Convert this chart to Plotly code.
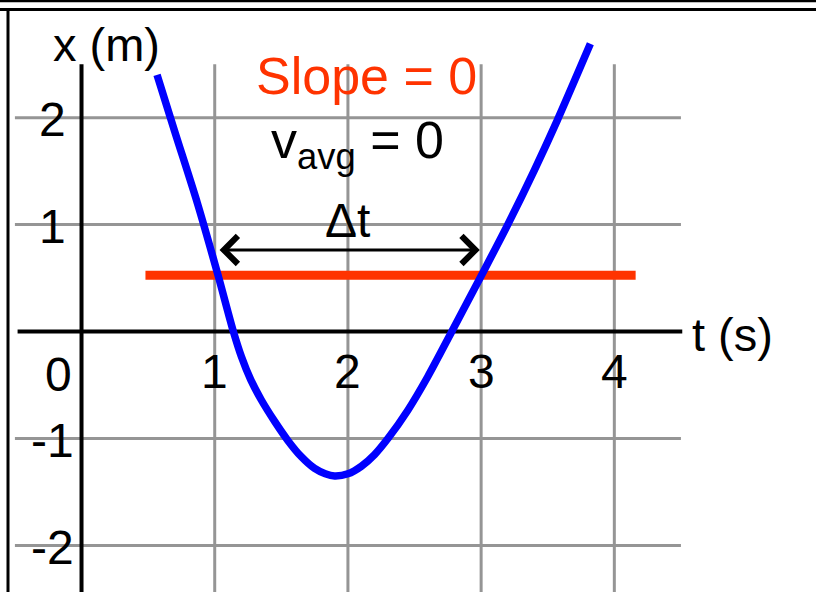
import plotly.graph_objects as go

# ---------------- data ----------------
curve_t = [0.567, 0.70, 0.87, 1.025, 1.14, 1.20, 1.27, 1.35, 1.45, 1.55, 1.65, 1.75, 1.83, 1.90,
           2.00, 2.10, 2.20, 2.30, 2.45, 2.60, 2.78, 3.00, 3.20, 3.40, 3.57, 3.82]
curve_x = [2.40, 1.87, 1.20, 0.526, 0.00, -0.234, -0.45, -0.64, -0.84, -1.02, -1.17, -1.28, -1.33, -1.35,
           -1.33, -1.26, -1.15, -1.00, -0.735, -0.42, 0.00, 0.52, 1.00, 1.51, 1.97, 2.69]

avg_t = [0.48, 4.16]          # horizontal "slope = 0" line
avg_x = [0.526, 0.526]

dt_start, dt_end, dt_level = 1.025, 2.99, 0.763

x_ticks = [1, 2, 3, 4]
x_tick_labels = ["1", "2", "3", "4"]
y_ticks = [2, 1, -1, -2]
y_tick_labels = ["2", "1", "-1", "-2"]

FONT = "Liberation Sans, Arial, sans-serif"
W, H = 816, 592
X_RANGE = [-0.612, 5.514]
Y_RANGE = [-2.435, 3.100]
GRID_T = [-0.5, 4.5]
GRID_Y = [-2.6, 2.5]

fig = go.Figure()

# grid lines
gx, gy = [], []
for t in x_ticks:
    gx += [t, t, None]
    gy += [GRID_Y[0], GRID_Y[1], None]
for v in y_ticks:
    gx += [GRID_T[0], GRID_T[1], None]
    gy += [v, v, None]
fig.add_trace(go.Scatter(x=gx, y=gy, mode="lines",
                         line=dict(color="#959595", width=3),
                         hoverinfo="skip", showlegend=False))

# axes lines
fig.add_trace(go.Scatter(x=[-0.48, 4.51], y=[0, 0], mode="lines",
                         line=dict(color="black", width=4),
                         hoverinfo="skip", showlegend=False))
fig.add_trace(go.Scatter(x=[0, 0], y=[GRID_Y[0], GRID_Y[1]], mode="lines",
                         line=dict(color="black", width=4),
                         hoverinfo="skip", showlegend=False))

# red zero-slope line
fig.add_trace(go.Scatter(x=avg_t, y=avg_x, mode="lines",
                         line=dict(color="#FF3300", width=9),
                         hoverinfo="skip", showlegend=False))

# blue position curve
fig.add_trace(go.Scatter(x=curve_t, y=curve_x, mode="lines",
                         line=dict(color="#0000FF", width=7.5, shape="spline", smoothing=0.8),
                         hoverinfo="skip", showlegend=False))

ann = []
# tick labels
for t, lab in zip(x_ticks, x_tick_labels):
    ann.append(dict(x=t, y=-0.37, text=lab, showarrow=False,
                    xanchor="center", yanchor="middle",
                    font=dict(family=FONT, size=48, color="black")))
for v, lab in zip(y_ticks, y_tick_labels):
    ann.append(dict(x=-0.10 + (0.055 if v < 0 else 0.0), y=v, text=lab, showarrow=False,
                    xanchor="right", yanchor="middle", yshift=-2,
                    font=dict(family=FONT, size=48, color="black")))
ann.append(dict(x=-0.176, y=-0.40, text="0", showarrow=False,
                xanchor="center", yanchor="middle",
                font=dict(family=FONT, size=48, color="black")))

# axis titles
ann.append(dict(x=0.19, y=2.68, text="x (m)", showarrow=False,
                xanchor="center", yanchor="middle",
                font=dict(family=FONT, size=47, color="black")))
ann.append(dict(x=4.89, y=-0.03, text="t (s)", showarrow=False,
                xanchor="center", yanchor="middle",
                font=dict(family=FONT, size=47, color="black")))

# texts
ann.append(dict(x=2.14, y=2.385, text="Slope = 0", showarrow=False,
                xanchor="center", yanchor="middle",
                font=dict(family=FONT, size=52, color="#FF3300")))
ann.append(dict(x=2.07, y=1.75, text="v<sub>avg</sub> = 0", showarrow=False,
                xanchor="center", yanchor="middle",
                font=dict(family=FONT, size=52, color="black")))
ann.append(dict(x=2.0, y=1.034, text="Δt", showarrow=False,
                xanchor="center", yanchor="middle",
                font=dict(family=FONT, size=48, color="black")))

# double-headed arrow for Δt
ann.append(dict(x=dt_end, y=dt_level, ax=dt_start, ay=dt_level,
                xref="x", yref="y", axref="x", ayref="y",
                text="", showarrow=True, arrowside="end+start",
                arrowhead=4, arrowsize=1.8, arrowwidth=3, arrowcolor="black"))

shapes = [
    dict(type="rect", xref="paper", yref="paper", x0=0, x1=1,
         y0=1 - 2.2 / H, y1=1, fillcolor="black", line=dict(width=0)),
    dict(type="line", xref="paper", yref="paper", x0=0, x1=1,
         y0=1 - 9.5 / H, y1=1 - 9.5 / H, line=dict(color="black", width=3)),
    dict(type="line", xref="paper", yref="paper", x0=8 / W, x1=8 / W,
         y0=0, y1=1 - 9.5 / H, line=dict(color="black", width=3)),
]

fig.update_layout(
    width=W, height=H,
    margin=dict(l=0, r=0, t=0, b=0),
    paper_bgcolor="white", plot_bgcolor="white",
    xaxis=dict(range=X_RANGE, visible=False, fixedrange=True),
    yaxis=dict(range=Y_RANGE, visible=False, fixedrange=True),
    annotations=ann, shapes=shapes,
    showlegend=False,
)

fig.write_html("out.html",
               config={"displayModeBar": False},
               post_script="document.body.style.margin='0';document.body.style.overflow='hidden';")
